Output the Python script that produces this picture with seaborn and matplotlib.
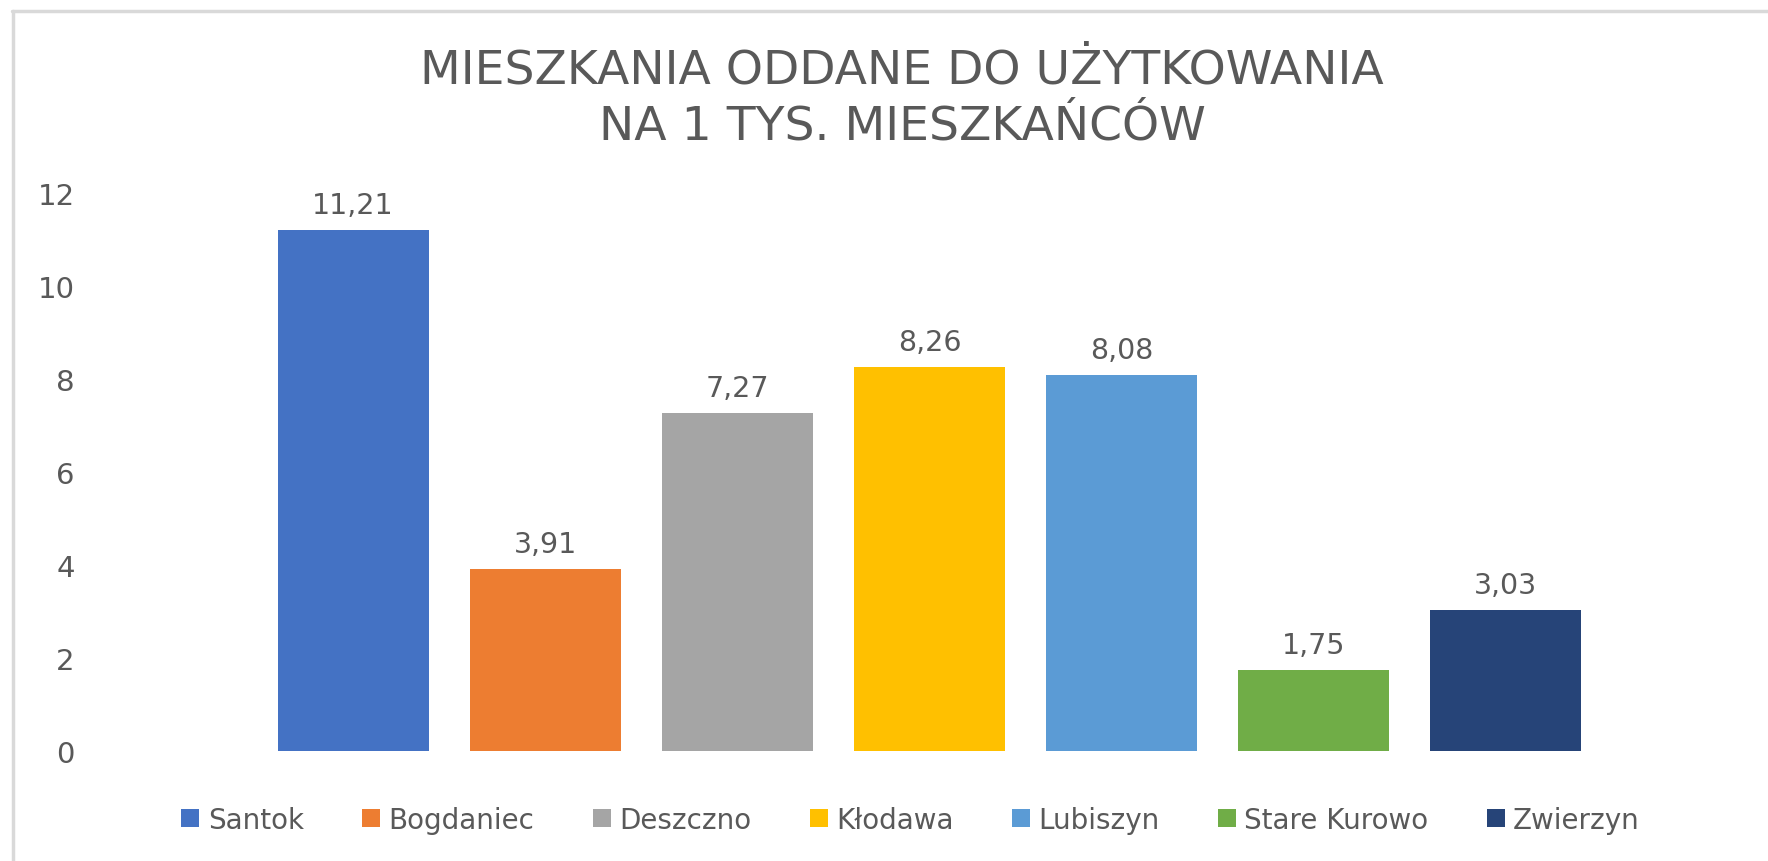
import matplotlib
matplotlib.use('Agg')
import matplotlib.pyplot as plt
import seaborn as sns
from matplotlib.lines import Line2D

# dane
gminy = ['Santok', 'Bogdaniec', 'Deszczno', 'Kłodawa', 'Lubiszyn', 'Stare Kurowo', 'Zwierzyn']
wartosci = [11.21, 3.91, 7.27, 8.26, 8.08, 1.75, 3.03]
kolory = ['#4472C4', '#ED7D31', '#A5A5A5', '#FFC000', '#5B9BD5', '#70AD47', '#264478']
yticki = [0, 2, 4, 6, 8, 10, 12]

tytul = 'MIESZKANIA ODDANE DO UŻYTKOWANIA\nNA 1 TYS. MIESZKAŃCÓW'
szary = '#595959'

sns.set_style('white')
plt.rcParams['font.family'] = ['DejaVu Sans']

fig = plt.figure(figsize=(17.68, 8.62), dpi=100)
ax = fig.add_axes([90 / 1768, 1 - 752 / 862, 1650 / 1768, 558 / 862])

sns.barplot(x=gminy, y=wartosci, hue=gminy, palette=kolory, saturation=1,
            width=0.786, linewidth=0, legend=True, ax=ax)

for c in ax.containers:
    ax.bar_label(c, labels=[f'{v:.2f}'.replace('.', ',') for v in c.datavalues],
                 padding=8, fontsize=20.5, color=szary)

ax.set_ylim(0, 12)
ax.set_xlim(-1.37, 7.22)
ax.set_yticks(yticki)
ax.set_yticklabels([str(t) for t in yticki])
ax.tick_params(axis='y', length=0, pad=11, labelsize=21, labelcolor=szary)
ax.set_xticks([])
ax.set_xlabel('')
ax.set_ylabel('')
sns.despine(ax=ax, left=True, bottom=True)

h, l = ax.get_legend_handles_labels()
ax.get_legend().remove()
fig.legend(h, l, loc='center', bbox_to_anchor=(0.515, 0.048), ncol=7, frameon=False,
           fontsize=20, labelcolor=szary, handlelength=0.65, handleheight=0.65,
           handletextpad=0.3, columnspacing=2.1)

fig.text(902 / 1768, 1 - 99 / 862, tytul, ha='center', va='center', fontsize=34,
         color=szary, linespacing=1.3)

# ramka wykresu (widoczna tylko u gory i z lewej)
fig.add_artist(Line2D([12 / 1768, 1], [1 - 12 / 862, 1 - 12 / 862], color='#D9D9D9', lw=2.5))
fig.add_artist(Line2D([13 / 1768, 13 / 1768], [0, 1 - 12 / 862], color='#D9D9D9', lw=2.5))

fig.savefig('out.png', dpi=100, facecolor='white')
